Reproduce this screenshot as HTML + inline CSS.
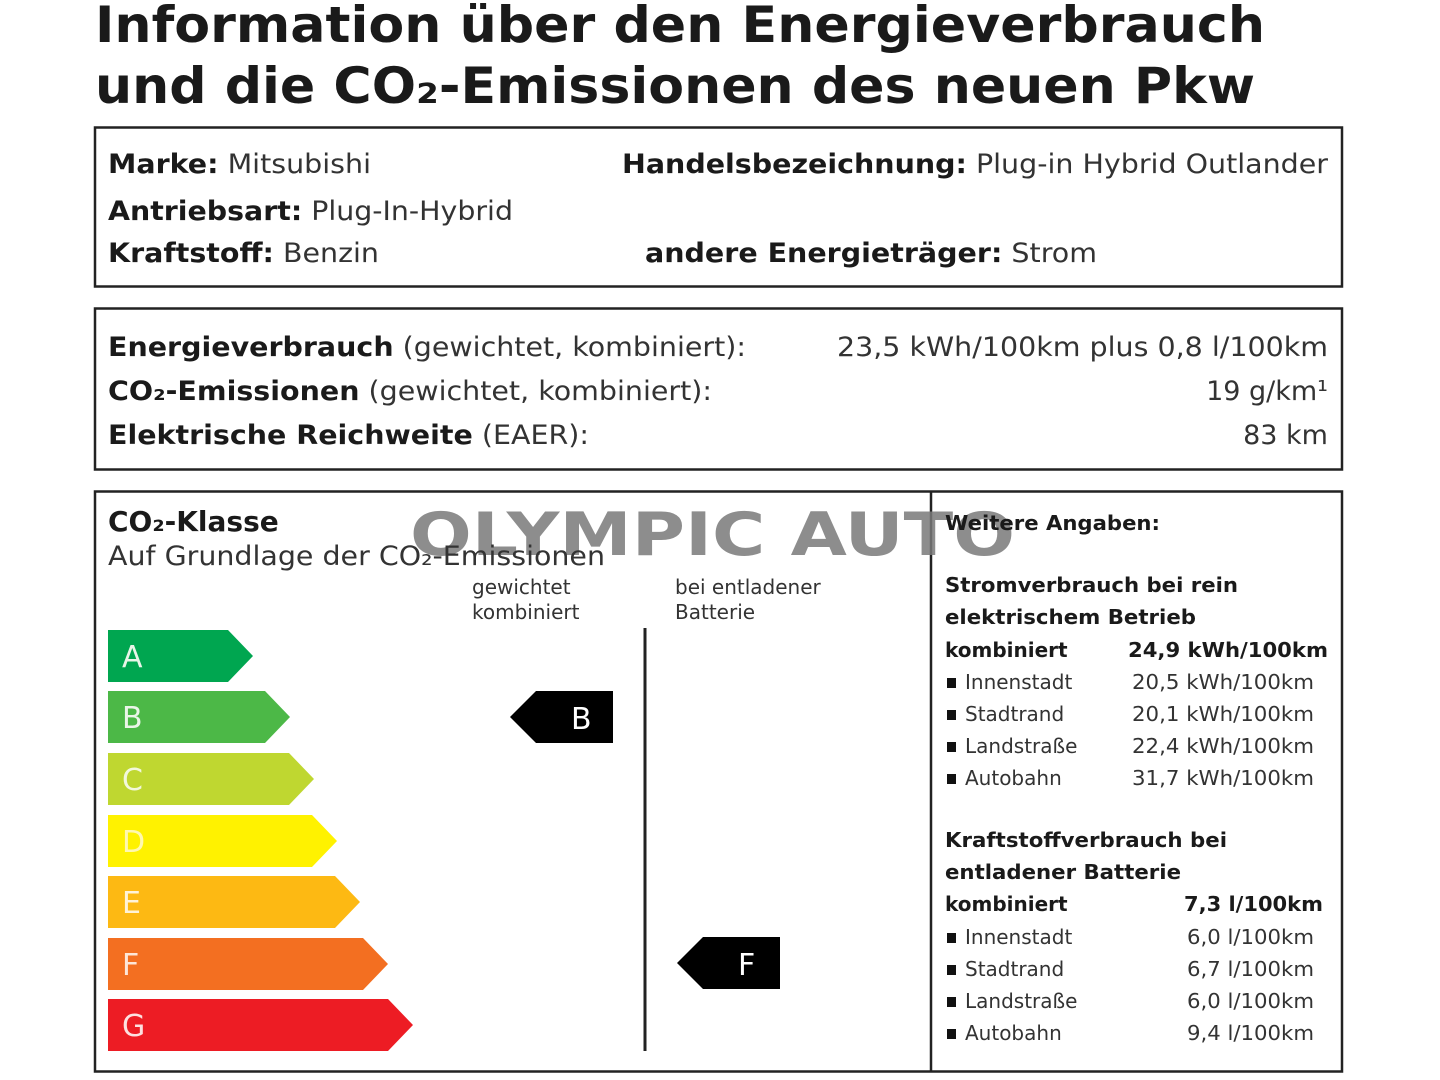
<!DOCTYPE html>
<html><head><meta charset="utf-8"><style>
html,body{margin:0;padding:0;background:#fff;width:1440px;height:1080px;overflow:hidden}
svg{display:block}
text{font-family:"DejaVu Sans","Liberation Sans",sans-serif;fill:#1a1a1a}
.b{font-weight:bold}
.g{fill:#333}
</style></head><body>
<svg width="1440" height="1080" viewBox="0 0 1440 1080" xmlns="http://www.w3.org/2000/svg">
<text class="b" x="95" y="42" font-size="50" textLength="1170" lengthAdjust="spacingAndGlyphs">Information über den Energieverbrauch</text>
<text class="b" x="95" y="103" font-size="50" textLength="1160" lengthAdjust="spacingAndGlyphs">und die CO₂-Emissionen des neuen Pkw</text>

<rect x="95" y="127.5" width="1247" height="159" fill="none" stroke="#222" stroke-width="2.5"/>
<rect x="95" y="308.5" width="1247" height="161" fill="none" stroke="#222" stroke-width="2.5"/>
<rect x="95" y="491.5" width="1247" height="580" fill="none" stroke="#222" stroke-width="2.5"/>
<line x1="931" y1="491" x2="931" y2="1072" stroke="#222" stroke-width="2.5"/>

<g font-size="27">
<text x="108" y="173" textLength="263" lengthAdjust="spacingAndGlyphs"><tspan class="b">Marke:</tspan> <tspan class="g">Mitsubishi</tspan></text>
<text x="622" y="173" textLength="706" lengthAdjust="spacingAndGlyphs"><tspan class="b">Handelsbezeichnung:</tspan> <tspan class="g">Plug-in Hybrid Outlander</tspan></text>
<text x="108" y="220" textLength="405" lengthAdjust="spacingAndGlyphs"><tspan class="b">Antriebsart:</tspan> <tspan class="g">Plug-In-Hybrid</tspan></text>
<text x="108" y="262" textLength="271" lengthAdjust="spacingAndGlyphs"><tspan class="b">Kraftstoff:</tspan> <tspan class="g">Benzin</tspan></text>
<text x="645" y="262" textLength="452" lengthAdjust="spacingAndGlyphs"><tspan class="b">andere Energieträger:</tspan> <tspan class="g">Strom</tspan></text>

<text x="108" y="356" textLength="638" lengthAdjust="spacingAndGlyphs"><tspan class="b">Energieverbrauch</tspan> <tspan class="g">(gewichtet, kombiniert):</tspan></text>
<text x="837" y="356" class="g" textLength="491" lengthAdjust="spacingAndGlyphs">23,5 kWh/100km plus 0,8 l/100km</text>
<text x="108" y="400" textLength="604" lengthAdjust="spacingAndGlyphs"><tspan class="b">CO₂-Emissionen</tspan> <tspan class="g">(gewichtet, kombiniert):</tspan></text>
<text x="1328" y="400" text-anchor="end" class="g">19 g/km¹</text>
<text x="108" y="444" textLength="481" lengthAdjust="spacingAndGlyphs"><tspan class="b">Elektrische Reichweite</tspan> <tspan class="g">(EAER):</tspan></text>
<text x="1328" y="444" text-anchor="end" class="g">83 km</text>

<text x="108" y="531" class="b" font-size="28">CO₂-Klasse</text>
</g>
<text x="410" y="555" class="b" font-size="60" style="fill:#7a7a7a;opacity:.85" textLength="605" lengthAdjust="spacingAndGlyphs">OLYMPIC AUTO</text>
<text x="108" y="565" font-size="27" class="g" textLength="497" lengthAdjust="spacingAndGlyphs">Auf Grundlage der CO₂-Emissionen</text>

<g font-size="20" class="g">
<text x="472" y="594" class="g">gewichtet</text>
<text x="472" y="619" class="g">kombiniert</text>
<text x="675" y="594" class="g">bei entladener</text>
<text x="675" y="619" class="g">Batterie</text>
</g>
<line x1="645" y1="628" x2="645" y2="1051" stroke="#222" stroke-width="3"/>

<g>
<polygon points="108,630 228,630 253,656 228,682 108,682" fill="#00a650"/>
<polygon points="108,691 265,691 290,717 265,743 108,743" fill="#4cb847"/>
<polygon points="108,753 289,753 314,779 289,805 108,805" fill="#bfd730"/>
<polygon points="108,815 312,815 337,841 312,867 108,867" fill="#fff200"/>
<polygon points="108,876 335,876 360,902 335,928 108,928" fill="#fdb913"/>
<polygon points="108,938 363,938 388,964 363,990 108,990" fill="#f36f21"/>
<polygon points="108,999 388,999 413,1025 388,1051 108,1051" fill="#ed1c24"/>
<g font-size="30">
<text x="122" y="667" style="fill:#e8f5e8">A</text>
<text x="122" y="728" style="fill:#eaf5e8">B</text>
<text x="122" y="790" style="fill:#f2f8dc">C</text>
<text x="122" y="852" style="fill:#fff8b0">D</text>
<text x="122" y="913" style="fill:#fff3d8">E</text>
<text x="122" y="975" style="fill:#fde6d8">F</text>
<text x="122" y="1036" style="fill:#fde0e0">G</text>
</g>
<polygon points="536,691 613,691 613,743 536,743 510,717" fill="#000"/>
<text x="571" y="729" font-size="30" style="fill:#fff">B</text>
<polygon points="703,937 780,937 780,989 703,989 677,963" fill="#000"/>
<text x="738" y="975" font-size="30" style="fill:#fff">F</text>
</g>

<g font-size="20">
<text x="945" y="530" class="b" textLength="215" lengthAdjust="spacingAndGlyphs">Weitere Angaben:</text>
<text x="945" y="592" class="b" textLength="293" lengthAdjust="spacingAndGlyphs">Stromverbrauch bei rein</text>
<text x="945" y="624" class="b" textLength="251" lengthAdjust="spacingAndGlyphs">elektrischem Betrieb</text>
<text x="945" y="657" class="b">kombiniert</text>
<text x="1128" y="657" class="b" textLength="200" lengthAdjust="spacingAndGlyphs">24,9 kWh/100km</text>
<text x="965" y="689" class="g">Innenstadt</text><text x="1132" y="689" class="g" textLength="182" lengthAdjust="spacingAndGlyphs">20,5 kWh/100km</text>
<text x="965" y="721" class="g">Stadtrand</text><text x="1132" y="721" class="g" textLength="182" lengthAdjust="spacingAndGlyphs">20,1 kWh/100km</text>
<text x="965" y="753" class="g">Landstraße</text><text x="1132" y="753" class="g" textLength="182" lengthAdjust="spacingAndGlyphs">22,4 kWh/100km</text>
<text x="965" y="785" class="g">Autobahn</text><text x="1132" y="785" class="g" textLength="182" lengthAdjust="spacingAndGlyphs">31,7 kWh/100km</text>
<text x="945" y="847" class="b" textLength="282" lengthAdjust="spacingAndGlyphs">Kraftstoffverbrauch bei</text>
<text x="945" y="879" class="b" textLength="236" lengthAdjust="spacingAndGlyphs">entladener Batterie</text>
<text x="945" y="911" class="b">kombiniert</text>
<text x="1184" y="911" class="b" textLength="139" lengthAdjust="spacingAndGlyphs">7,3 l/100km</text>
<text x="965" y="944" class="g">Innenstadt</text><text x="1187" y="944" class="g" textLength="127" lengthAdjust="spacingAndGlyphs">6,0 l/100km</text>
<text x="965" y="976" class="g">Stadtrand</text><text x="1187" y="976" class="g" textLength="127" lengthAdjust="spacingAndGlyphs">6,7 l/100km</text>
<text x="965" y="1008" class="g">Landstraße</text><text x="1187" y="1008" class="g" textLength="127" lengthAdjust="spacingAndGlyphs">6,0 l/100km</text>
<text x="965" y="1040" class="g">Autobahn</text><text x="1187" y="1040" class="g" textLength="127" lengthAdjust="spacingAndGlyphs">9,4 l/100km</text>
</g>
<g fill="#111">
<rect x="947" y="678" width="9" height="10"/><rect x="947" y="710" width="9" height="10"/>
<rect x="947" y="742" width="9" height="10"/><rect x="947" y="774" width="9" height="10"/>
<rect x="947" y="933" width="9" height="10"/><rect x="947" y="965" width="9" height="10"/>
<rect x="947" y="997" width="9" height="10"/><rect x="947" y="1029" width="9" height="10"/>
</g>
</svg>
</body></html>
